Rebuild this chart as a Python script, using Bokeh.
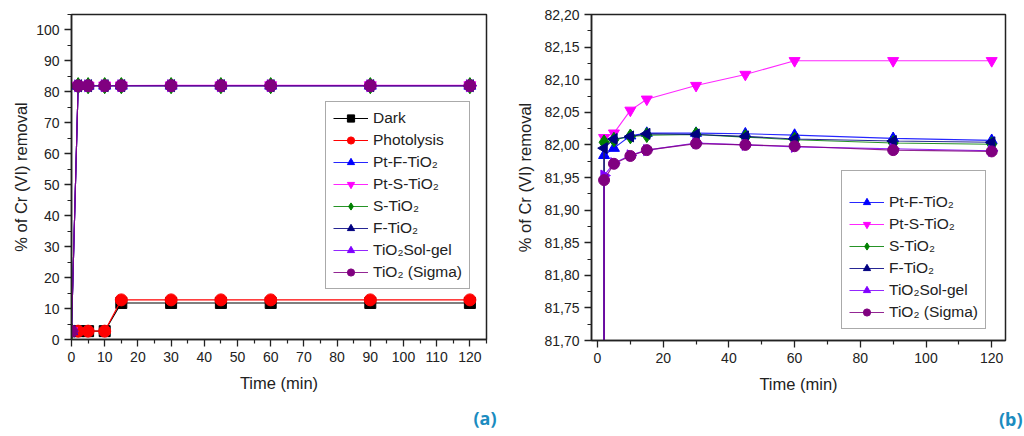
import numpy as np
from bokeh.plotting import figure
from bokeh.models import FixedTicker, Legend, LegendItem, Title, Range1d
from bokeh.layouts import row
from bokeh.embed import file_html
from bokeh.resources import INLINE

# ---------------- data ----------------
time_blank = [2, 5, 10, 15, 30, 45, 60, 90, 120]
dark = [2.7, 2.7, 2.7, 11.8, 11.8, 11.8, 11.8, 11.8, 11.8]
photolysis = [2.7, 2.7, 2.7, 12.8, 12.8, 12.8, 12.8, 12.8, 12.8]

time_cat = [0, 2, 5, 10, 15, 30, 45, 60, 90, 120]
pt_f_tio2 = [2.7, 81.984, 81.995, 82.014, 82.018, 82.018, 82.017, 82.015, 82.010, 82.007]
pt_s_tio2 = [2.7, 82.011, 82.018, 82.053, 82.070, 82.091, 82.108, 82.129, 82.129, 82.129]
s_tio2 = [2.7, 82.004, 82.008, 82.013, 82.015, 82.016, 82.012, 82.008, 82.003, 82.001]
f_tio2 = [2.7, 81.995, 82.009, 82.013, 82.017, 82.016, 82.013, 82.009, 82.006, 82.004]
tio2_solgel = [2.7, 81.953, 81.972, 81.984, 81.992, 82.003, 82.000, 81.997, 81.994, 81.991]
tio2_sigma = [2.7, 81.946, 81.971, 81.983, 81.992, 82.002, 82.000, 81.998, 81.992, 81.990]

x_ticks_a = [0, 10, 20, 30, 40, 50, 60, 70, 80, 90, 100, 110, 120]
x_minor_a = [5, 15, 25, 35, 45, 55, 65, 75, 85, 95, 105, 115, 125]
y_ticks_a = [0, 10, 20, 30, 40, 50, 60, 70, 80, 90, 100]
y_minor_a = [5, 15, 25, 35, 45, 55, 65, 75, 85, 95, 105]
x_ticks_b = [0, 20, 40, 60, 80, 100, 120]
x_minor_b = [10, 30, 50, 70, 90, 110]
y_ticks_b = [81.70, 81.75, 81.80, 81.85, 81.90, 81.95, 82.00, 82.05, 82.10, 82.15, 82.20]
y_labels_b = ["81,70", "81,75", "81,80", "81,85", "81,90", "81,95", "82,00", "82,05", "82,10", "82,15", "82,20"]
y_minor_b = [81.725, 81.775, 81.825, 81.875, 81.925, 81.975, 82.025, 82.075, 82.125, 82.175]

FONT = "Liberation Sans"

# name, values, colour, marker, angle, size factor
series_cat = [
    ("Pt-F-TiO\u2082", pt_f_tio2, "#0000FF", "triangle", 0.0, 1.0),
    ("Pt-S-TiO\u2082", pt_s_tio2, "#FF00FF", "inverted_triangle", 0.0, 1.0),
    ("S-TiO\u2082", s_tio2, "#008000", "diamond", 0.0, 1.35),
    ("F-TiO\u2082", f_tio2, "#000080", "triangle", np.pi / 2, 1.0),
    ("TiO\u2082Sol-gel", tio2_solgel, "#8000FF", "triangle", -np.pi / 2, 1.0),
    ("TiO\u2082 (Sigma)", tio2_sigma, "#800080", "circle", 0.0, 1.0),
]


def make_fig(xr, yr, fw, fh, bl, br, bt, bb, ylab_standoff):
    p = figure(x_range=Range1d(*xr), y_range=Range1d(*yr),
               frame_width=fw, frame_height=fh,
               min_border_left=bl, min_border_right=br,
               min_border_top=bt, min_border_bottom=bb,
               output_backend="svg", toolbar_location=None)
    p.grid.visible = False
    p.outline_line_color = "#222222"
    p.outline_line_width = 1.5
    p.background_fill_color = "white"
    p.border_fill_color = "white"
    for ax in (p.xaxis[0], p.yaxis[0]):
        ax.axis_line_color = "#222222"
        ax.axis_line_width = 1.5
        ax.major_tick_line_color = "#222222"
        ax.minor_tick_line_color = "#222222"
        ax.major_tick_line_width = 1.3
        ax.minor_tick_line_width = 1.2
        ax.major_tick_in = 0
        ax.major_tick_out = 7
        ax.minor_tick_in = 0
        ax.minor_tick_out = 4
        ax.major_label_text_font = FONT
        ax.major_label_text_font_size = "14px"
        ax.major_label_text_color = "#222222"
        ax.axis_label_text_font = FONT
        ax.axis_label_text_font_size = "16.5px"
        ax.axis_label_text_font_style = "normal"
        ax.axis_label_text_color = "#222222"
        ax.major_label_standoff = 5
        ax.axis_label_standoff = 9
    p.yaxis.axis_label_standoff = ylab_standoff
    p.xaxis.axis_label = "Time (min)"
    p.yaxis.axis_label = "% of Cr (VI) removal"
    return p


def panel_tag(text, offset):
    return Title(text=text, align="right", offset=offset, standoff=19,
                 text_font="Noto Sans", text_font_style="bold", text_font_size="18px",
                 text_color="#1B8CC0")


# ---------------- panel (a) ----------------
pa = make_fig((0, 125), (0, 105), 415, 325, 71, 26, 14, 97, 3)
pa.xaxis.ticker = FixedTicker(ticks=x_ticks_a, minor_ticks=x_minor_a)
pa.yaxis.ticker = FixedTicker(ticks=y_ticks_a, minor_ticks=y_minor_a)

items_a = []
l = pa.line(time_blank, dark, line_color="#000000", line_width=1.1)
s = pa.scatter(time_blank, dark, marker="square", size=11, fill_color="#000000", line_color="#000000")
items_a.append(LegendItem(label="Dark", renderers=[l, s]))
l = pa.line(time_blank, photolysis, line_color="#FF0000", line_width=1.1)
s = pa.scatter(time_blank, photolysis, marker="circle", size=12, fill_color="#FF0000", line_color="#FF0000")
items_a.append(LegendItem(label="Photolysis", renderers=[l, s]))
for name, vals, col, mk, ang, f in series_cat:
    l = pa.line(time_cat, vals, line_color=col, line_width=1.1, line_alpha=0.85)
    s = pa.scatter(time_cat, vals, marker=mk, angle=ang, size=12 * f, fill_color=col, line_color=col)
    items_a.append(LegendItem(label=name, renderers=[l, s]))

leg_a = Legend(items=items_a, location=(254, 50), glyph_width=35, glyph_height=18,
               label_height=18, spacing=4, padding=7, label_standoff=5,
               label_text_font=FONT, label_text_font_size="15.5px", label_text_color="#222222",
               border_line_color="#555555", border_line_width=1.3,
               background_fill_alpha=1.0, margin=0)
pa.add_layout(leg_a)
pa.add_layout(panel_tag("(a)", -10), "below")

# ---------------- panel (b) ----------------
pb = make_fig((-1.83, 124.2), (81.70, 82.20), 414, 326, 79, 19, 12, 98, 7)
pb.xaxis.ticker = FixedTicker(ticks=x_ticks_b, minor_ticks=x_minor_b)
pb.yaxis.ticker = FixedTicker(ticks=y_ticks_b, minor_ticks=y_minor_b)
pb.yaxis.major_label_overrides = {t: lab for t, lab in zip(y_ticks_b, y_labels_b)}

items_b = []
for name, vals, col, mk, ang, f in series_cat:
    l = pb.line(time_cat, vals, line_color=col, line_width=1.1, line_alpha=0.85)
    s = pb.scatter(time_cat, vals, marker=mk, angle=ang, size=11 * f, fill_color=col, line_color=col)
    items_b.append(LegendItem(label=name, renderers=[l, s]))

leg_b = Legend(items=items_b, location=(250, 11), glyph_width=35, glyph_height=18,
               label_height=18, spacing=4, padding=7, label_standoff=5,
               label_text_font=FONT, label_text_font_size="15.5px", label_text_color="#222222",
               title=" ", title_text_font_size="9px", title_standoff=5,
               border_line_color="#555555", border_line_width=1.3,
               background_fill_alpha=1.0, margin=0)
pb.add_layout(leg_b)
pb.add_layout(panel_tag("(b)", -17), "below")

layout = row(pa, pb)
open("out.html", "w").write(file_html(layout, INLINE))
